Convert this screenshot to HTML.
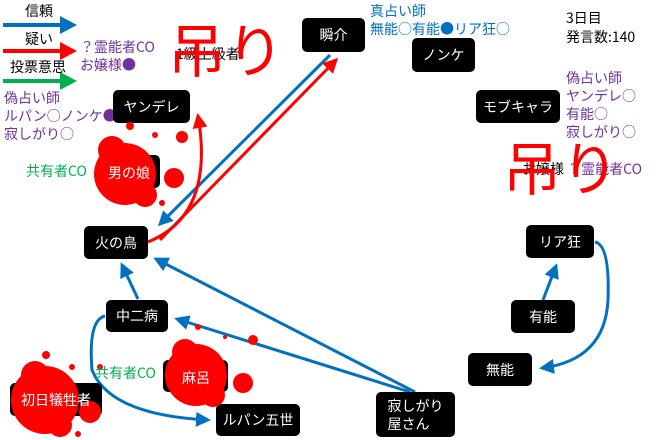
<!DOCTYPE html>
<html><head><meta charset="utf-8"><style>
body{margin:0;width:660px;height:440px;background:#fff;position:relative;overflow:hidden;font-family:"Noto Sans CJK JP","Liberation Sans",sans-serif}
.n{position:absolute;background:#000;color:#fff;border-radius:5px;display:flex;align-items:center;justify-content:center;font-size:14px;line-height:18px}
.t{position:absolute;font-size:13px;line-height:17px;white-space:nowrap}
.p{color:#7030a0}.b{color:#0070c0}.g{color:#00b050}
</style></head><body>
<svg width="660" height="440" style="position:absolute;left:0;top:0">
<defs>
<marker id="bh" markerWidth="5" markerHeight="5" refX="4" refY="2.5" orient="auto" markerUnits="strokeWidth"><path d="M0,0L5,2.5L0,5z" fill="#0070c0"/></marker>
<marker id="rh" markerWidth="5" markerHeight="5" refX="4" refY="2.5" orient="auto" markerUnits="strokeWidth"><path d="M0,0L5,2.5L0,5z" fill="#f00"/></marker>
</defs>
<line x1="3" y1="25" x2="62" y2="25" stroke="#0070c0" stroke-width="4"/><path d="M60,16L77,25L60,34z" fill="#0070c0"/>
<line x1="3" y1="51" x2="62" y2="51" stroke="#f00" stroke-width="4"/><path d="M60,42L77,51L60,60z" fill="#f00"/>
<line x1="3" y1="81" x2="62" y2="81" stroke="#00b050" stroke-width="4"/><path d="M60,72L77,81L60,90z" fill="#00b050"/>
<line x1="330" y1="55" x2="160" y2="224" stroke="#0070c0" stroke-width="3" marker-end="url(#bh)"/>
<line x1="160" y1="240" x2="336" y2="60" stroke="#f00" stroke-width="3" marker-end="url(#rh)"/>
<path d="M148,242 Q215,215 198,116" fill="none" stroke="#f00" stroke-width="3" marker-end="url(#rh)"/>
<line x1="138" y1="299" x2="122" y2="265" stroke="#0070c0" stroke-width="3" marker-end="url(#bh)"/>
<line x1="415" y1="392" x2="156" y2="259" stroke="#0070c0" stroke-width="3" marker-end="url(#bh)"/>
<line x1="410" y1="392" x2="177" y2="319" stroke="#0070c0" stroke-width="3" marker-end="url(#bh)"/>
<path d="M105,316 Q88,320 92,370 Q110,415 208,420" fill="none" stroke="#0070c0" stroke-width="3" marker-end="url(#bh)"/>
<line x1="543" y1="300" x2="556" y2="266" stroke="#0070c0" stroke-width="3" marker-end="url(#bh)"/>
<path d="M595,242 Q610,245 608,300 Q605,360 542,368" fill="none" stroke="#0070c0" stroke-width="3" marker-end="url(#bh)"/>
</svg>
<div class="t" style="left:25px;top:3px;font-size:14px">信頼</div>
<div class="t" style="left:25px;top:31px;font-size:14px">疑い</div>
<div class="t" style="left:10px;top:59px;font-size:14px">投票意思</div>
<div class="t p" style="left:80px;top:38px;font-size:14px;line-height:18px">？霊能者CO<br>お嬢様●</div>
<div class="t p" style="left:4px;top:89px;font-size:14px;line-height:18px">偽占い師<br>ルパン○ノンケ●<br>寂しがり○</div>
<div class="t" style="left:176px;top:46px;font-size:14px">1級上級者</div>
<div class="t b" style="left:370px;top:2px;font-size:14px;line-height:18px">真占い師<br>無能○有能●リア狂○</div>
<div class="t" style="left:566px;top:9px;font-size:14px;line-height:19px">3日目<br>発言数:140</div>
<div class="t p" style="left:566px;top:69px;font-size:14px;line-height:18px">偽占い師<br>ヤンデレ○<br>有能○<br>寂しがり○</div>
<div class="t" style="left:522px;top:161px;font-size:14px">お嬢様 <span class="p">？霊能者CO</span></div>
<div class="n" style="left:302px;top:18px;width:63px;height:34px">瞬介</div>
<div class="n" style="left:412px;top:38px;width:63px;height:34px">ノンケ</div>
<div class="n" style="left:476px;top:90px;width:84px;height:33px">モブキャラ</div>
<div class="n" style="left:113px;top:90px;width:77px;height:33px">ヤンデレ</div>
<div class="n" style="left:98px;top:155px;width:62px;height:33px">男の娘</div>
<div class="n" style="left:84px;top:226px;width:64px;height:33px">火の鳥</div>
<div class="n" style="left:106px;top:300px;width:62px;height:32px">中二病</div>
<div class="n" style="left:163px;top:360px;width:65px;height:32px">麻呂</div>
<div class="n" style="left:10px;top:383px;width:92px;height:33px">初日犠牲者</div>
<div class="n" style="left:216px;top:404px;width:84px;height:32px">ルパン五世</div>
<div class="n" style="left:376px;top:392px;width:79px;height:45px;line-height:18px">寂しがり<br>屋さん</div>
<div class="n" style="left:468px;top:353px;width:64px;height:33px">無能</div>
<div class="n" style="left:511px;top:300px;width:64px;height:33px">有能</div>
<div class="n" style="left:526px;top:225px;width:68px;height:33px">リア狂</div>
<svg width="660" height="440" style="position:absolute;left:0;top:0">
<g fill="#f00">
<circle cx="125" cy="174" r="31"/><circle cx="112" cy="150" r="14"/><circle cx="145" cy="195" r="12"/><circle cx="174" cy="178" r="10"/><circle cx="182" cy="137" r="6"/><circle cx="155" cy="135" r="3"/><circle cx="130" cy="126" r="4"/><circle cx="162" cy="203" r="3"/>
<circle cx="196" cy="375" r="31"/><circle cx="185" cy="352" r="13"/><circle cx="213" cy="395" r="12"/><circle cx="243" cy="383" r="10"/><circle cx="253" cy="340" r="5"/><circle cx="198" cy="327" r="3"/><circle cx="225" cy="337" r="2"/>
<circle cx="45" cy="400" r="34"/><circle cx="35" cy="375" r="14"/><circle cx="60" cy="425" r="12"/><circle cx="90" cy="412" r="11"/><circle cx="46" cy="355" r="4"/><circle cx="72" cy="367" r="3"/><circle cx="100" cy="367" r="3"/><circle cx="78" cy="434" r="3"/>
</g>
<text x="129" y="178" fill="#fff" font-size="14" text-anchor="middle" font-family="Noto Sans CJK JP,sans-serif">男の娘</text>
<text x="196" y="383" fill="#fff" font-size="14" text-anchor="middle" font-family="Noto Sans CJK JP,sans-serif">麻呂</text>
<text x="56" y="405" fill="#fff" font-size="14" text-anchor="middle" font-family="Noto Sans CJK JP,sans-serif">初日犠牲者</text>
</svg>
<div class="t g" style="left:26px;top:163px;font-size:14px">共有者CO</div>
<div class="t g" style="left:95px;top:365px;font-size:14px">共有者CO</div>
<div class="t" style="left:168px;top:14px;font-size:58px;line-height:66px;color:#f00;font-weight:normal">吊り</div>
<div class="t" style="left:503px;top:132px;font-size:58px;line-height:66px;color:#f00;font-weight:normal">吊り</div>
</body></html>
